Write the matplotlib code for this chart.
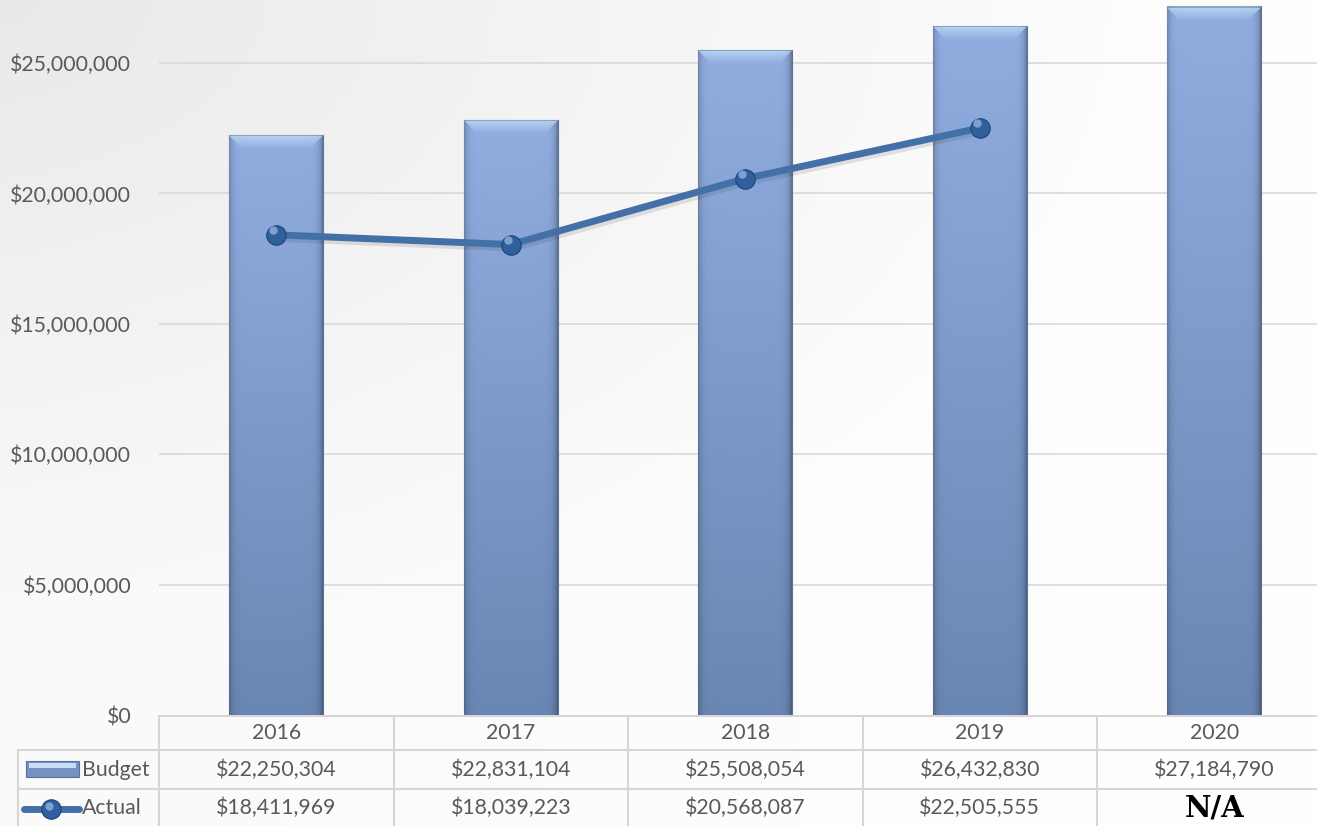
import numpy as np
import matplotlib.pyplot as plt
import matplotlib.patheffects as pe
from matplotlib.patches import Rectangle
from matplotlib.ticker import FuncFormatter

years = ['2016', '2017', '2018', '2019', '2020']
budget = [22250304, 22831104, 25508054, 26432830, 27184790]
actual = [18411969, 18039223, 20568087, 22505555]
yticks = [0, 5000000, 10000000, 15000000, 20000000, 25000000]

W, H = 1317, 826
fig = plt.figure(figsize=(W / 100, H / 100), dpi=100)

# soft grey-to-white backdrop
bg = fig.add_axes([0, 0, 1, 1], zorder=-10)
gy, gx = np.mgrid[0:1:200j, 0:1:300j]
v = 1.0 - 0.065 * np.clip(1 - np.hypot(gx * 1.1, gy * 1.3), 0, 1) - 0.02 * (1 - gx)
bg.imshow(np.dstack([v, v, v]), extent=[0, 1, 0, 1], aspect='auto', origin='upper')
bg.set_axis_off()

col_px = 234.5          # pixel width of one category column
left_px = 159           # left edge of the plot area
table_h = 111           # height of the data table in pixels
xmin = -0.5
xmax = -0.5 + (W - left_px) / col_px
xlo = -0.5 - left_px / col_px
ymax = 715 / 130.4 * 5000000
fs = 15.3

def px2x(px):
    return -0.5 + (px - left_px) / col_px

ax = fig.add_axes([left_px / W, table_h / H, (W - left_px) / W, 715 / H])
ax.set_xlim(xmin, xmax)
ax.set_ylim(0, ymax)
ax.patch.set_alpha(0)
for s in ax.spines.values():
    s.set_visible(False)
ax.set_xticks([])
ax.set_yticks(yticks)
ax.yaxis.set_major_formatter(FuncFormatter(lambda v, p: '${:,.0f}'.format(v)))
ax.tick_params(axis='y', length=0, pad=20, labelsize=fs, labelcolor='#595959')
for lab in ax.get_yticklabels():
    lab.set_fontfamily('Lato')
for t in yticks[1:]:
    ax.axhline(t, color='#d9d9d9', lw=1.2, zorder=0)

top_c = np.array([146, 174, 225]) / 255
bot_c = np.array([106, 134, 180]) / 255


def bar_image(h_px, w_px):
    t = np.linspace(0, 1, h_px)[:, None, None]
    img = top_c * (1 - t) + bot_c * t
    img = np.repeat(img, w_px, axis=1)
    u = np.linspace(0, 1, w_px)
    edge = 1 - 0.22 * np.exp(-u / 0.035) - 0.3 * np.exp(-(1 - u) / 0.035)
    img = img * edge[None, :, None]
    # bevelled top: bright strip fading down, narrowed at the corners
    bevel = min(14, h_px)
    for r in range(bevel):
        k = 0.65 * (1 - r / bevel)
        inset = int(r * 0.9)
        img[r, inset:w_px - inset] = img[r, inset:w_px - inset] * (1 - k) + np.array([0.80, 0.92, 1.0]) * k
    img[:2] = img[:2] * 0.78
    return np.clip(img, 0, 1)


bars = ax.bar(range(len(years)), budget, width=0.40, color=top_c,
              edgecolor='#5a7099', linewidth=0.8, zorder=2)
for b in bars:
    h_px = max(int(b.get_height() / ymax * 715), 2)
    im = ax.imshow(bar_image(h_px, 94), aspect='auto', zorder=2.1,
                   extent=[b.get_x(), b.get_x() + b.get_width(), 0, b.get_height()])
    im.set_clip_path(b)

line_c = '#4470a8'
ax.plot(range(len(actual)), actual, color=line_c, lw=5, zorder=3,
        solid_capstyle='round',
        path_effects=[pe.SimpleLineShadow(offset=(1.5, -2.5), shadow_color='#303030', alpha=0.13),
                      pe.Normal()])
ax.plot(range(len(actual)), actual, 'o', ms=14, color='#2f5f9c',
        markeredgecolor='#1f4474', markeredgewidth=0.8, zorder=4)
ax.plot(np.arange(len(actual)) - 0.012, np.array(actual) + 180000, 'o', ms=6,
        color='#8fb3e0', markeredgewidth=0, alpha=0.8, zorder=5)

# data table under the chart
tb = fig.add_axes([0, 0, 1, table_h / H])
tb.set_xlim(xlo, xmax)
tb.set_ylim(table_h, 0)
tb.set_axis_off()
tb.patch.set_alpha(0)
grid_c = '#d6d6d6'
tb.plot([xmin, xmax], [0.5, 0.5], color=grid_c, lw=1.5)
tb.plot([px2x(18), xmax], [35, 35], color=grid_c, lw=1.5)
tb.plot([px2x(18), xmax], [74, 74], color=grid_c, lw=1.5)
for i in range(len(years)):
    tb.plot([i - 0.5, i - 0.5], [0, table_h], color=grid_c, lw=1.5)
tb.plot([px2x(18), px2x(18)], [35, table_h], color=grid_c, lw=1.5)

txt = dict(ha='center', va='center', fontsize=fs, color='#595959', family='Lato')
for i, y in enumerate(years):
    tb.text(i, 18, y, **txt)
for i, v in enumerate(budget):
    tb.text(i, 55, '${:,.0f}'.format(v), **txt)
for i in range(len(years)):
    if i < len(actual):
        tb.text(i, 93, '${:,.0f}'.format(actual[i]), **txt)
    else:
        tb.text(i, 93, 'N/A', ha='center', va='center', fontsize=21,
                fontweight='bold', color='black', family='DejaVu Serif')

tb.text(px2x(82), 55, 'Budget', ha='left', va='center', fontsize=fs,
        color='#595959', family='Lato')
tb.text(px2x(82), 93, 'Actual', ha='left', va='center', fontsize=fs,
        color='#595959', family='Lato')
key = Rectangle((px2x(26), 46), px2x(79) - px2x(26), 16, facecolor='#7491c2',
                edgecolor='#5a7099', lw=0.8)
tb.add_patch(key)
tb.add_patch(Rectangle((px2x(29), 48), px2x(76) - px2x(29), 5,
                       facecolor='#c8dcf5', edgecolor='none'))
tb.plot([px2x(24), px2x(79)], [94, 94], color=line_c, lw=5, solid_capstyle='round')
tb.plot([px2x(51)], [94], 'o', ms=14, color='#2f5f9c',
        markeredgecolor='#1f4474', markeredgewidth=0.8)
tb.plot([px2x(49)], [91], 'o', ms=6, color='#8fb3e0', markeredgewidth=0, alpha=0.8)

fig.savefig('out.png', dpi=100)
